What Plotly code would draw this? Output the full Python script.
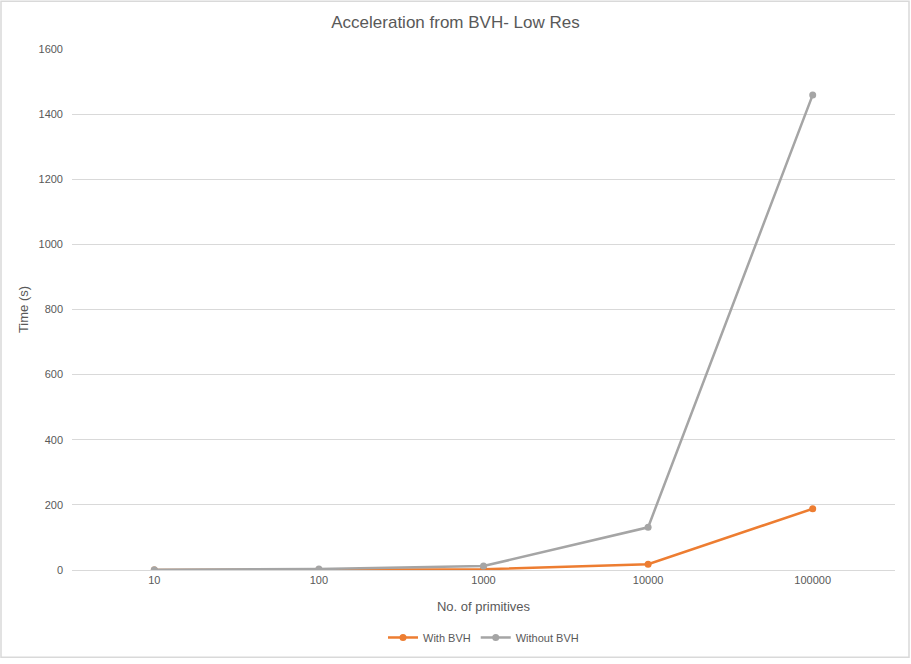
import plotly.graph_objects as go

primitives = ["10", "100", "1000", "10000", "100000"]
with_bvh = [0.1, 0.6, 2.5, 18, 188]
without_bvh = [0.4, 3, 12, 131, 1459]

W, H = 911, 664
ml, mr, mt, mb = 72, 16, 49, 90
pw, ph = W - ml - mr, H - mt - mb

font_family = "Liberation Sans, Arial, sans-serif"

fig = go.Figure()
fig.add_trace(go.Scatter(x=primitives, y=with_bvh, mode="lines+markers", name="With BVH",
                         line=dict(color="#ED7D31", width=2.5), marker=dict(size=7, color="#ED7D31")))
fig.add_trace(go.Scatter(x=primitives, y=without_bvh, mode="lines+markers", name="Without BVH",
                         line=dict(color="#A5A5A5", width=2.5), marker=dict(size=7, color="#A5A5A5")))

# outer chart border
fig.add_shape(type="rect", xref="paper", yref="paper",
              x0=(-ml + 1) / pw, x1=(pw + mr - 2) / pw,
              y0=(-mb + 2) / ph, y1=(ph + mt - 1) / ph,
              line=dict(color="#D9D9D9", width=1.5), layer="below")

fig.update_layout(
    width=W, height=H,
    paper_bgcolor="white", plot_bgcolor="white",
    font=dict(family=font_family, size=11, color="#595959"),
    title=dict(text="Acceleration from BVH- Low Res", x=0.5, xanchor="center", y=1 - 22 / H, yanchor="middle",
               font=dict(size=17, color="#595959")),
    xaxis=dict(type="category", title=dict(text="No. of primitives", standoff=16), showgrid=False,
               showline=True, linecolor="#D9D9D9", ticks="", tickfont=dict(size=11), range=[-0.5, 4.5]),
    yaxis=dict(title=dict(text="Time (s)", standoff=6), range=[0, 1600], dtick=200, gridcolor="#D9D9D9",
               zeroline=False, showline=False, ticks="", ticklabelstandoff=8, tickfont=dict(size=11)),
    legend=dict(orientation="h", x=0.5, xanchor="center", y=-(642 - 574) / ph, yanchor="middle",
                font=dict(size=11)),
    margin=dict(l=ml, r=mr, t=mt, b=mb),
    showlegend=True,
)

fig.write_html("out.html", config={"displayModeBar": False},
               post_script="document.body.style.margin='0';")
